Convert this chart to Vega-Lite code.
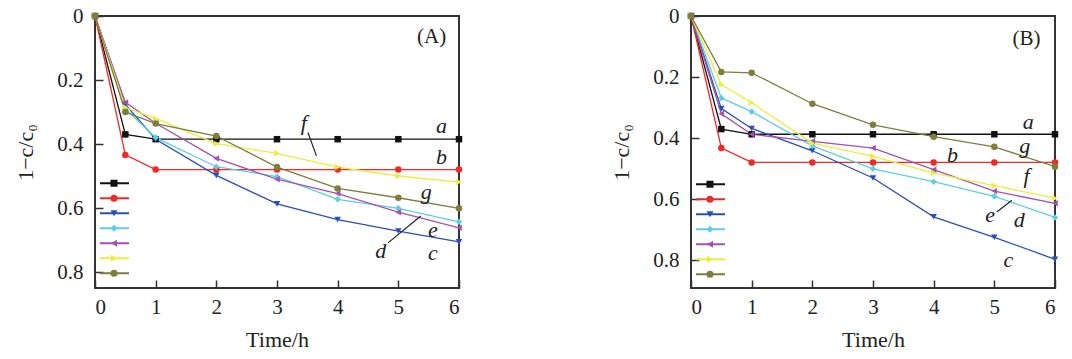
{
  "$schema": "https://vega.github.io/schema/vega-lite/v6.json",
  "background": "white",
  "padding": {"top": 4, "left": 13, "right": 5, "bottom": 5},
  "spacing": 145,
  "config": {
    "view": {"stroke": "#333333", "strokeWidth": 2},
    "font": "Liberation Serif"
  },
  "datasets": {
    "A": [
      {"s":"a","t":0,"v":0},{"s":"a","t":0.5,"v":0.37},{"s":"a","t":1,"v":0.385},{"s":"a","t":2,"v":0.385},{"s":"a","t":3,"v":0.385},{"s":"a","t":4,"v":0.385},{"s":"a","t":5,"v":0.385},{"s":"a","t":6,"v":0.385},
      {"s":"b","t":0,"v":0},{"s":"b","t":0.5,"v":0.434},{"s":"b","t":1,"v":0.48},{"s":"b","t":2,"v":0.48},{"s":"b","t":3,"v":0.48},{"s":"b","t":4,"v":0.48},{"s":"b","t":5,"v":0.48},{"s":"b","t":6,"v":0.48},
      {"s":"c","t":0,"v":0},{"s":"c","t":0.5,"v":0.276},{"s":"c","t":1,"v":0.385},{"s":"c","t":2,"v":0.498},{"s":"c","t":3,"v":0.587},{"s":"c","t":4,"v":0.636},{"s":"c","t":5,"v":0.672},{"s":"c","t":6,"v":0.706},
      {"s":"d","t":0,"v":0},{"s":"d","t":0.5,"v":0.29},{"s":"d","t":1,"v":0.38},{"s":"d","t":2,"v":0.471},{"s":"d","t":3,"v":0.502},{"s":"d","t":4,"v":0.573},{"s":"d","t":5,"v":0.601},{"s":"d","t":6,"v":0.643},
      {"s":"e","t":0,"v":0},{"s":"e","t":0.5,"v":0.27},{"s":"e","t":1,"v":0.335},{"s":"e","t":2,"v":0.445},{"s":"e","t":3,"v":0.51},{"s":"e","t":4,"v":0.555},{"s":"e","t":5,"v":0.613},{"s":"e","t":6,"v":0.662},
      {"s":"f","t":0,"v":0},{"s":"f","t":0.5,"v":0.286},{"s":"f","t":1,"v":0.32},{"s":"f","t":2,"v":0.399},{"s":"f","t":3,"v":0.429},{"s":"f","t":4,"v":0.472},{"s":"f","t":5,"v":0.5},{"s":"f","t":6,"v":0.519},
      {"s":"g","t":0,"v":0},{"s":"g","t":0.5,"v":0.3},{"s":"g","t":1,"v":0.336},{"s":"g","t":2,"v":0.375},{"s":"g","t":3,"v":0.472},{"s":"g","t":4,"v":0.539},{"s":"g","t":5,"v":0.568},{"s":"g","t":6,"v":0.601}
    ],
    "B": [
      {"s":"a","t":0,"v":0},{"s":"a","t":0.5,"v":0.37},{"s":"a","t":1,"v":0.387},{"s":"a","t":2,"v":0.387},{"s":"a","t":3,"v":0.387},{"s":"a","t":4,"v":0.387},{"s":"a","t":5,"v":0.387},{"s":"a","t":6,"v":0.387},
      {"s":"b","t":0,"v":0},{"s":"b","t":0.5,"v":0.432},{"s":"b","t":1,"v":0.479},{"s":"b","t":2,"v":0.479},{"s":"b","t":3,"v":0.479},{"s":"b","t":4,"v":0.479},{"s":"b","t":5,"v":0.479},{"s":"b","t":6,"v":0.479},
      {"s":"c","t":0,"v":0},{"s":"c","t":0.5,"v":0.303},{"s":"c","t":1,"v":0.368},{"s":"c","t":2,"v":0.441},{"s":"c","t":3,"v":0.53},{"s":"c","t":4,"v":0.657},{"s":"c","t":5,"v":0.724},{"s":"c","t":6,"v":0.796},
      {"s":"d","t":0,"v":0},{"s":"d","t":0.5,"v":0.268},{"s":"d","t":1,"v":0.313},{"s":"d","t":2,"v":0.425},{"s":"d","t":3,"v":0.5},{"s":"d","t":4,"v":0.542},{"s":"d","t":5,"v":0.59},{"s":"d","t":6,"v":0.659},
      {"s":"e","t":0,"v":0},{"s":"e","t":0.5,"v":0.32},{"s":"e","t":1,"v":0.387},{"s":"e","t":2,"v":0.41},{"s":"e","t":3,"v":0.432},{"s":"e","t":4,"v":0.503},{"s":"e","t":5,"v":0.573},{"s":"e","t":6,"v":0.613},
      {"s":"f","t":0,"v":0},{"s":"f","t":0.5,"v":0.224},{"s":"f","t":1,"v":0.284},{"s":"f","t":2,"v":0.416},{"s":"f","t":3,"v":0.459},{"s":"f","t":4,"v":0.514},{"s":"f","t":5,"v":0.555},{"s":"f","t":6,"v":0.596},
      {"s":"g","t":0,"v":0},{"s":"g","t":0.5,"v":0.183},{"s":"g","t":1,"v":0.186},{"s":"g","t":2,"v":0.287},{"s":"g","t":3,"v":0.356},{"s":"g","t":4,"v":0.395},{"s":"g","t":5,"v":0.428},{"s":"g","t":6,"v":0.493}
    ],
    "labA": [
      {"lbl":"a","t":5.71,"v":0.343},{"lbl":"b","t":5.71,"v":0.44},{"lbl":"g","t":5.46,"v":0.55},{"lbl":"e","t":5.57,"v":0.668},
      {"lbl":"c","t":5.57,"v":0.742},{"lbl":"d","t":4.71,"v":0.735},{"lbl":"f","t":3.44,"v":0.335}
    ],
    "labB": [
      {"lbl":"a","t":5.56,"v":0.346},{"lbl":"g","t":5.5,"v":0.425},{"lbl":"b","t":4.31,"v":0.454},{"lbl":"f","t":5.53,"v":0.522},
      {"lbl":"e","t":4.93,"v":0.652},{"lbl":"d","t":5.41,"v":0.668},{"lbl":"c","t":5.23,"v":0.8}
    ],
    "leadA": [
      {"t":3.51,"v":0.364,"t2":3.65,"v2":0.437},
      {"t":4.83,"v":0.709,"t2":5.37,"v2":0.625}
    ],
    "leadB": [
      {"t":5.04,"v":0.641,"t2":5.29,"v2":0.603}
    ]
  },
  "resolve": {
    "scale": {"color": "independent", "fill": "independent", "shape": "independent"},
    "legend": {"color": "independent", "fill": "independent", "shape": "independent"}
  },
  "hconcat": [
    {
      "width": 364, "height": 272,
      "layer": [
        {
          "data": {"name": "A"},
          "mark": {"type": "line", "strokeWidth": 1.3},
          "encoding": {
            "x": {"field": "t", "type": "quantitative", "scale": {"domain": [0, 6], "nice": false},
              "axis": {"values": [0,1,2,3,4,5,6], "format": "d", "title": "Time/h", "domain": false, "grid": false,
                "tickSize": -8, "tickColor": "#333333", "tickWidth": 1.5, "labelPadding": 16, "titlePadding": 12,
                "labelFont": "Liberation Serif", "labelFontSize": 21, "labelColor": "#222222",
                "titleFont": "Liberation Serif", "titleFontSize": 22, "titleFontWeight": "normal", "titleColor": "#222222"}},
            "y": {"field": "v", "type": "quantitative", "scale": {"domain": [0, 0.85], "reverse": true, "nice": false, "zero": false},
              "axis": {"values": [0,0.2,0.4,0.6,0.8], "title": "1−c/c₀", "labelExpr": "datum.value == 0 ? '0' : format(datum.value, '.1f')",
                "domain": false, "grid": false, "tickSize": -8, "tickColor": "#333333", "tickWidth": 1.5, "labelPadding": 20, "titlePadding": 19,
                "labelFont": "Liberation Serif", "labelFontSize": 21, "labelColor": "#222222",
                "titleFont": "Liberation Serif", "titleFontSize": 22, "titleFontWeight": "normal", "titleColor": "#222222"}},
            "color": {"field": "s", "type": "nominal",
              "scale": {"domain": ["a","b","c","d","e","f","g"], "range": ["#111111","#ee2a24","#2850b4","#5fcde0","#a352b0","#eded3c","#7d7d3d"]},
              "legend": {"orient": "none", "direction": "vertical", "columns": 1, "title": null, "labelExpr": "''", "clipHeight": 14.5, "rowPadding": 0, "padding": 0,
                "legendX": 4, "legendY": 160, "symbolType": "stroke", "symbolSize": 841, "symbolStrokeWidth": 2}},
            "detail": {"field": "s"}
          }
        },
        {
          "data": {"name": "A"},
          "mark": {"type": "point", "filled": true, "size": 42, "opacity": 1, "strokeWidth": 0},
          "encoding": {
            "x": {"field": "t", "type": "quantitative"},
            "y": {"field": "v", "type": "quantitative"},
            "fill": {"field": "s", "type": "nominal",
              "scale": {"domain": ["g","f","e","d","c","b","a"], "range": ["#7d7d3d","#eded3c","#a352b0","#5fcde0","#2850b4","#ee2a24","#111111"]},
              "legend": {"values": ["a","b","c","d","e","f","g"], "orient": "none", "direction": "vertical", "columns": 1, "title": null, "labelExpr": "''", "clipHeight": 14.5, "rowPadding": 0, "padding": 0,
                "legendX": 14, "legendY": 160, "symbolSize": 50, "symbolStrokeWidth": 0}},
            "shape": {"field": "s", "type": "nominal",
              "scale": {"domain": ["g","f","e","d","c","b","a"], "range": ["circle","triangle-right","triangle-left","diamond","triangle-down","circle","square"]},
              "legend": {"values": ["a","b","c","d","e","f","g"], "orient": "none", "direction": "vertical", "columns": 1, "title": null, "labelExpr": "''", "clipHeight": 14.5, "rowPadding": 0, "padding": 0,
                "legendX": 14, "legendY": 160, "symbolSize": 50, "symbolStrokeWidth": 0}}
          }
        },
        {
          "data": {"name": "leadA"},
          "mark": {"type": "rule", "color": "#222222", "strokeWidth": 1.2},
          "encoding": {
            "x": {"field": "t", "type": "quantitative"}, "y": {"field": "v", "type": "quantitative"},
            "x2": {"field": "t2"}, "y2": {"field": "v2"}
          }
        },
        {
          "data": {"name": "labA"},
          "mark": {"type": "text", "font": "Liberation Serif", "fontStyle": "italic", "fontSize": 22, "color": "#222222", "align": "center", "baseline": "middle"},
          "encoding": {
            "x": {"field": "t", "type": "quantitative"}, "y": {"field": "v", "type": "quantitative"},
            "text": {"field": "lbl"}
          }
        },
        {
          "data": {"values": [{"t": 5.55, "v": 0.067, "txt": "(A)"}]},
          "mark": {"type": "text", "font": "Liberation Serif", "fontSize": 21, "color": "#222222", "align": "center", "baseline": "middle"},
          "encoding": {
            "x": {"field": "t", "type": "quantitative"}, "y": {"field": "v", "type": "quantitative"},
            "text": {"field": "txt"}
          }
        }
      ]
    },
    {
      "width": 364, "height": 272,
      "layer": [
        {
          "data": {"name": "B"},
          "mark": {"type": "line", "strokeWidth": 1.3},
          "encoding": {
            "x": {"field": "t", "type": "quantitative", "scale": {"domain": [0, 6], "nice": false},
              "axis": {"values": [0,1,2,3,4,5,6], "format": "d", "title": "Time/h", "domain": false, "grid": false,
                "tickSize": -8, "tickColor": "#333333", "tickWidth": 1.5, "labelPadding": 16, "titlePadding": 12,
                "labelFont": "Liberation Serif", "labelFontSize": 21, "labelColor": "#222222",
                "titleFont": "Liberation Serif", "titleFontSize": 22, "titleFontWeight": "normal", "titleColor": "#222222"}},
            "y": {"field": "v", "type": "quantitative", "scale": {"domain": [0, 0.89], "reverse": true, "nice": false, "zero": false},
              "axis": {"values": [0,0.2,0.4,0.6,0.8], "title": "1−c/c₀", "labelExpr": "datum.value == 0 ? '0' : format(datum.value, '.1f')",
                "domain": false, "grid": false, "tickSize": -8, "tickColor": "#333333", "tickWidth": 1.5, "labelPadding": 20, "titlePadding": 19,
                "labelFont": "Liberation Serif", "labelFontSize": 21, "labelColor": "#222222",
                "titleFont": "Liberation Serif", "titleFontSize": 22, "titleFontWeight": "normal", "titleColor": "#222222"}},
            "color": {"field": "s", "type": "nominal",
              "scale": {"domain": ["a","b","c","d","e","f","g"], "range": ["#111111","#ee2a24","#2850b4","#5fcde0","#a352b0","#eded3c","#7d7d3d"]},
              "legend": {"orient": "none", "direction": "vertical", "columns": 1, "title": null, "labelExpr": "''", "clipHeight": 14.5, "rowPadding": 0, "padding": 0,
                "legendX": 4, "legendY": 161, "symbolType": "stroke", "symbolSize": 841, "symbolStrokeWidth": 2}},
            "detail": {"field": "s"}
          }
        },
        {
          "data": {"name": "B"},
          "mark": {"type": "point", "filled": true, "size": 42, "opacity": 1, "strokeWidth": 0},
          "encoding": {
            "x": {"field": "t", "type": "quantitative"},
            "y": {"field": "v", "type": "quantitative"},
            "fill": {"field": "s", "type": "nominal",
              "scale": {"domain": ["g","f","e","d","c","b","a"], "range": ["#7d7d3d","#eded3c","#a352b0","#5fcde0","#2850b4","#ee2a24","#111111"]},
              "legend": {"values": ["a","b","c","d","e","f","g"], "orient": "none", "direction": "vertical", "columns": 1, "title": null, "labelExpr": "''", "clipHeight": 14.5, "rowPadding": 0, "padding": 0,
                "legendX": 14, "legendY": 161, "symbolSize": 50, "symbolStrokeWidth": 0}},
            "shape": {"field": "s", "type": "nominal",
              "scale": {"domain": ["g","f","e","d","c","b","a"], "range": ["circle","triangle-right","triangle-left","diamond","triangle-down","circle","square"]},
              "legend": {"values": ["a","b","c","d","e","f","g"], "orient": "none", "direction": "vertical", "columns": 1, "title": null, "labelExpr": "''", "clipHeight": 14.5, "rowPadding": 0, "padding": 0,
                "legendX": 14, "legendY": 161, "symbolSize": 50, "symbolStrokeWidth": 0}}
          }
        },
        {
          "data": {"name": "leadB"},
          "mark": {"type": "rule", "color": "#222222", "strokeWidth": 1.2},
          "encoding": {
            "x": {"field": "t", "type": "quantitative"}, "y": {"field": "v", "type": "quantitative"},
            "x2": {"field": "t2"}, "y2": {"field": "v2"}
          }
        },
        {
          "data": {"name": "labB"},
          "mark": {"type": "text", "font": "Liberation Serif", "fontStyle": "italic", "fontSize": 22, "color": "#222222", "align": "center", "baseline": "middle"},
          "encoding": {
            "x": {"field": "t", "type": "quantitative"}, "y": {"field": "v", "type": "quantitative"},
            "text": {"field": "lbl"}
          }
        },
        {
          "data": {"values": [{"t": 5.53, "v": 0.076, "txt": "(B)"}]},
          "mark": {"type": "text", "font": "Liberation Serif", "fontSize": 21, "color": "#222222", "align": "center", "baseline": "middle"},
          "encoding": {
            "x": {"field": "t", "type": "quantitative"}, "y": {"field": "v", "type": "quantitative"},
            "text": {"field": "txt"}
          }
        }
      ]
    }
  ]
}
